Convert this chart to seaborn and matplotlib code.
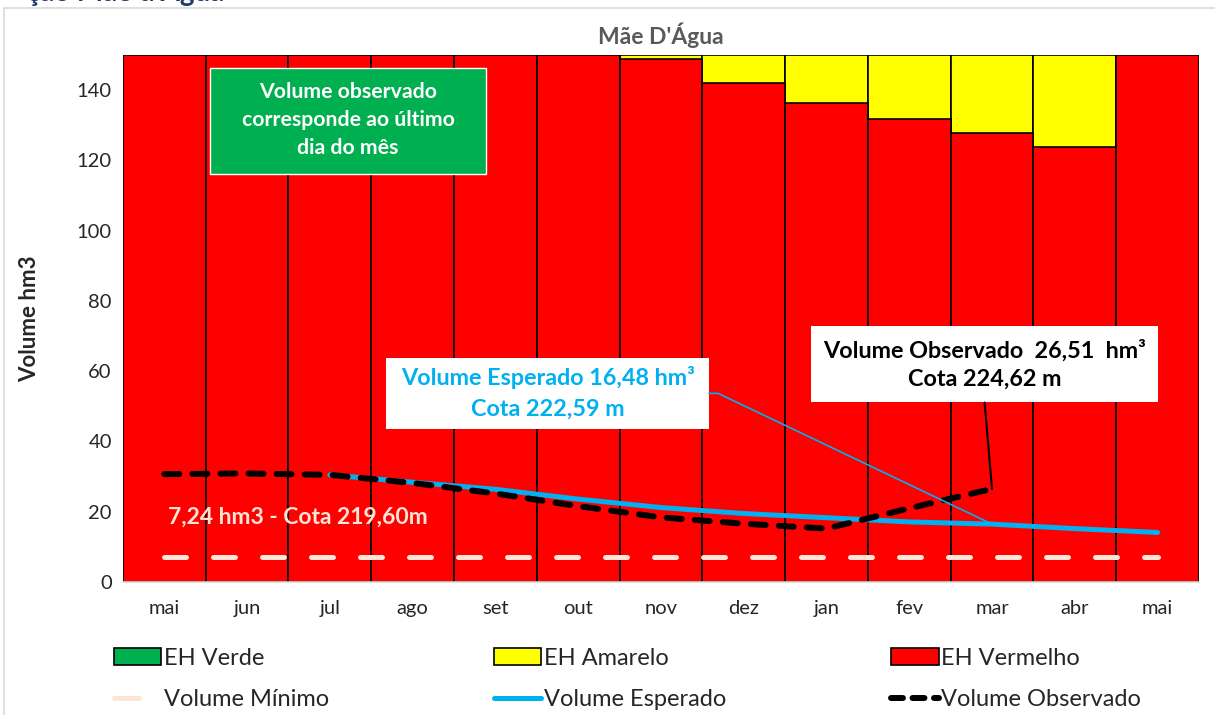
import numpy as np
import pandas as pd
import seaborn as sns
import matplotlib.pyplot as plt
import matplotlib.patches as mpatches
from matplotlib.lines import Line2D

# data
months = ["mai", "jun", "jul", "ago", "set", "out", "nov", "dez", "jan",
          "fev", "mar", "abr", "mai"]
eh_vermelho = [150, 150, 150, 150, 150, 150, 148.8, 142.1, 136.3, 131.9,
               127.7, 123.9, 150]
eh_amarelo = [0, 0, 0, 0, 0, 0, 1.2, 7.9, 13.7, 18.1, 22.3, 26.1, 0]
eh_verde = [0] * 13
volume_minimo = [7.24] * 13
volume_esperado = [np.nan, np.nan, 30.5, 28.4, 26.4, 23.6, 21.2, 19.5,
                   18.3, 17.1, 16.48, 15.2, 14.1]
volume_observado = [30.7, 30.9, 30.5, 28.2, 25.2, 21.6, 18.4, 16.6, 15.2,
                    21.0, 26.51, np.nan, np.nan]

RED = "#FF0000"
YELLOW = "#FFFF00"
GREEN = "#00B050"
BLUE = "#00B0F0"
BEIGE = "#FCE4D6"

sns.set_style("white")
plt.rcParams["font.family"] = ["Lato", "DejaVu Sans"]

fig = plt.figure(figsize=(12.15, 7.15), dpi=100)
ax = fig.add_axes([0.1012, 0.186, 0.8856, 0.737])

df = pd.DataFrame({"pos": range(len(months)),
                   "verde": eh_verde,
                   "vermelho": eh_vermelho,
                   "total": np.array(eh_vermelho) + np.array(eh_amarelo)})

sns.barplot(data=df, x="pos", y="total", color=YELLOW, saturation=1,
            width=1, edgecolor="black", linewidth=1.2, ax=ax)
sns.barplot(data=df, x="pos", y="vermelho", color=RED, saturation=1,
            width=1, edgecolor="black", linewidth=1.2, ax=ax)

x = np.arange(len(months))
ax.plot(x, volume_minimo, color=BEIGE, lw=3.6, dashes=(4.4, 5.4),
        dash_capstyle="round", zorder=3)
ax.plot(x, volume_esperado, color=BLUE, lw=3.6, solid_capstyle="round",
        zorder=4)
ax.plot(x, volume_observado, color="black", lw=4.3, dashes=(2.5, 2.2),
        dash_capstyle="round", zorder=5)

ax.set_xlim(-0.5, 12.5)
ax.set_ylim(0, 150)
ax.set_yticks(range(0, 141, 20))
ax.set_xticks(x)
ax.set_xticklabels(months)
ax.tick_params(axis="both", length=0, labelsize=14.5, colors="#262626")
ax.tick_params(axis="x", pad=13)
ax.tick_params(axis="y", pad=8)
ax.set_xlabel("")
ax.set_ylabel("Volume hm3", fontsize=16, fontweight="bold", labelpad=26)
ax.set_title("Mãe D'Água", color="#595959", fontsize=16.5,
             fontweight="bold", pad=8)
for side in ["left", "right", "top"]:
    ax.spines[side].set_visible(False)
ax.spines["bottom"].set_color("#d9d9d9")
ax.spines["bottom"].set_linewidth(1.2)

# green note
ax.add_patch(mpatches.Rectangle((0.55, 116.2), 3.34, 30.1, facecolor=GREEN,
                                edgecolor="white", lw=1, zorder=6))
ax.text(2.22, 131.6, "Volume observado\ncorresponde ao último\ndia do mês",
        ha="center", va="center", color="white", fontsize=15.3,
        fontweight="bold", linespacing=1.5, zorder=7)

ax.text(0.05, 18.4, "7,24 hm3 - Cota 219,60m", color=BEIGE, fontsize=16.5,
        fontweight="bold", va="center", zorder=7)

# callout boxes
ax.add_patch(mpatches.Rectangle((2.68, 43.5), 3.9, 20.4, facecolor="white",
                                edgecolor="none", zorder=6))
ax.text(4.63, 53.9, "Volume Esperado 16,48 hm³\nCota 222,59 m",
        ha="center", va="center", color=BLUE, fontsize=16.8,
        fontweight="bold", linespacing=1.55, zorder=7)
ax.plot([6.58, 6.69, 10], [53.7, 53.7, volume_esperado[10]], color=BLUE,
        lw=1.2, zorder=6)

ax.add_patch(mpatches.Rectangle((7.81, 51.1), 4.19, 21.9, facecolor="white",
                                edgecolor="none", zorder=6))
ax.text(9.91, 62.0, "Volume Observado  26,51  hm³\nCota 224,62 m",
        ha="center", va="center", color="black", fontsize=16.8,
        fontweight="bold", linespacing=1.42, zorder=7)
ax.plot([9.91, 10], [51.1, volume_observado[10]], color="black", lw=1.5,
        zorder=6)

handles = [
    mpatches.Patch(facecolor=GREEN, edgecolor="black", lw=1.2),
    Line2D([], [], color=BEIGE, lw=3.6, dashes=(5, 20),
           dash_capstyle="round"),
    mpatches.Patch(facecolor=YELLOW, edgecolor="black", lw=1.2),
    Line2D([], [], color=BLUE, lw=3.6, solid_capstyle="round"),
    mpatches.Patch(facecolor=RED, edgecolor="black", lw=1.2),
    Line2D([], [], color="black", lw=4.3, dashes=(2.0, 1.6),
           dash_capstyle="round"),
]
labels = ["EH Verde", "Volume Mínimo", "EH Amarelo", "Volume Esperado",
          "EH Vermelho", "Volume Observado"]
fig.legend(handles, labels, loc="upper left", bbox_to_anchor=(0.094, 0.094),
           ncol=3, frameon=False, fontsize=17, handlelength=2.0,
           handletextpad=0.1, columnspacing=7.0, labelspacing=0.85,
           borderpad=0, borderaxespad=0)

# cropped heading above the chart and the light frame
fig.text(0.022, 1 - 1.0 / 715, "ção Mãe d'Água", color="#1F3864",
         fontsize=20, fontweight="bold", va="baseline")
fig.patches.append(mpatches.Rectangle((0.0035, -0.01), 1.2, 0.01 + 1
                                      - 8 / 715, transform=fig.transFigure,
                                      facecolor="none", edgecolor="#d9d9d9",
                                      lw=1.2))

fig.savefig("out.png", dpi=100)
